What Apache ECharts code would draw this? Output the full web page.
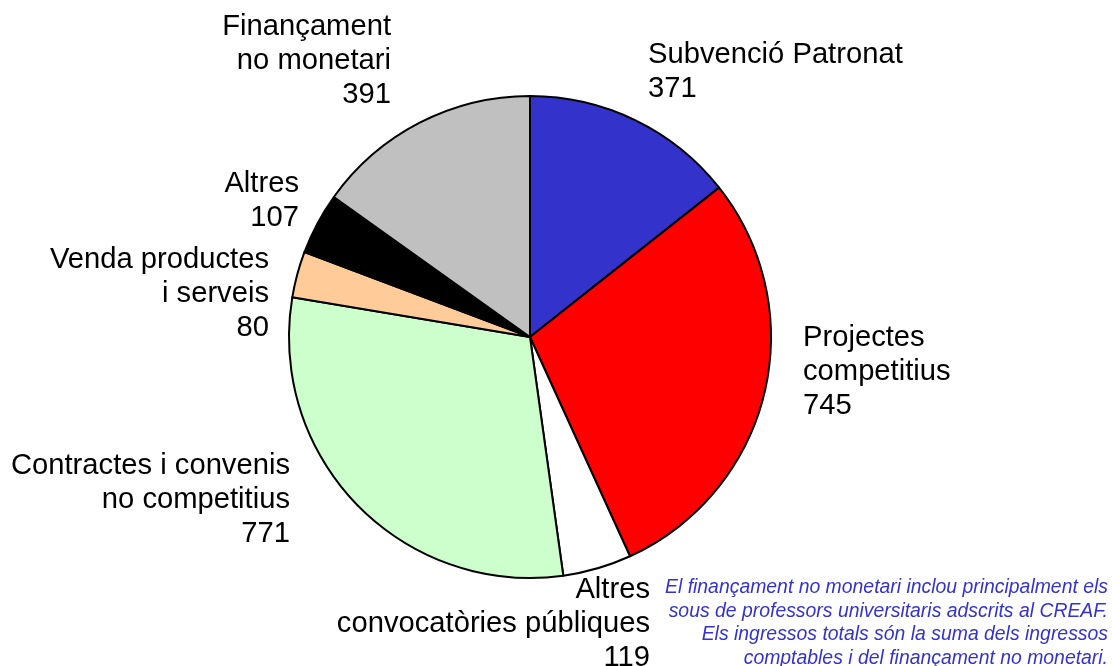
<!DOCTYPE html>
<html>
<head>
<meta charset="utf-8">
<script src="https://cdn.jsdelivr.net/npm/echarts@6/dist/echarts.min.js"></script>
<style>
  html, body { margin: 0; padding: 0; background: #fff; }
  #chart { width: 1112px; height: 666px; }
</style>
</head>
<body>
<div id="chart"></div>
<script>
// Data, clockwise from 12 o'clock
const names = [
  "Subvenció Patronat",
  "Projectes\ncompetitius",
  "Altres\nconvocatòries públiques",
  "Contractes i convenis\nno competitius",
  "Venda productes\ni serveis",
  "Altres",
  "Finançament\nno monetari"
];
const values = [371, 745, 119, 771, 80, 107, 391];
const colors = ["#3333cc", "#ff0000", "#ffffff", "#ccffcc", "#ffcc99", "#000000", "#c0c0c0"];

const note = [
  "El finançament no monetari inclou principalment els",
  "sous de professors universitaris adscrits al CREAF.",
  "Els ingressos totals són la suma dels ingressos",
  "comptables i del finançament no monetari."
];

// where each label sits (anchor x, top y, alignment)
const labelPos = [
  { x: 648, y: 38, align: "left" },
  { x: 803, y: 321, align: "left" },
  { x: 650, y: 573, align: "right" },
  { x: 290, y: 449, align: "right" },
  { x: 269, y: 243, align: "right" },
  { x: 299, y: 167, align: "right" },
  { x: 391, y: 10, align: "right" }
];

const FONT = "'Liberation Sans', Arial, sans-serif";

const labels = names.map((n, i) => ({
  type: "text",
  x: labelPos[i].x,
  y: labelPos[i].y,
  style: {
    text: n + "\n" + values[i],
    fontFamily: FONT,
    fontSize: 29.2,
    lineHeight: 34,
    fill: "#000",
    align: labelPos[i].align,
    verticalAlign: "top"
  }
}));

const chart = echarts.init(document.getElementById("chart"));
chart.setOption({
  backgroundColor: "#fff",
  animation: false,
  series: [{
    type: "pie",
    center: [530, 337],
    radius: 241,
    startAngle: 90,
    clockwise: true,
    label: { show: false },
    labelLine: { show: false },
    itemStyle: { borderColor: "#000", borderWidth: 2 },
    data: values.map((v, i) => ({
      name: names[i], value: v, itemStyle: { color: colors[i] }
    }))
  }],
  graphic: labels.concat([{
    type: "text",
    x: 1108,
    y: 576,
    style: {
      text: note.join("\n"),
      fontFamily: FONT,
      fontStyle: "italic",
      fontSize: 19.4,
      lineHeight: 23.5,
      fill: "#3333cc",
      align: "right",
      verticalAlign: "top"
    }
  }])
});
</script>
</body>
</html>
